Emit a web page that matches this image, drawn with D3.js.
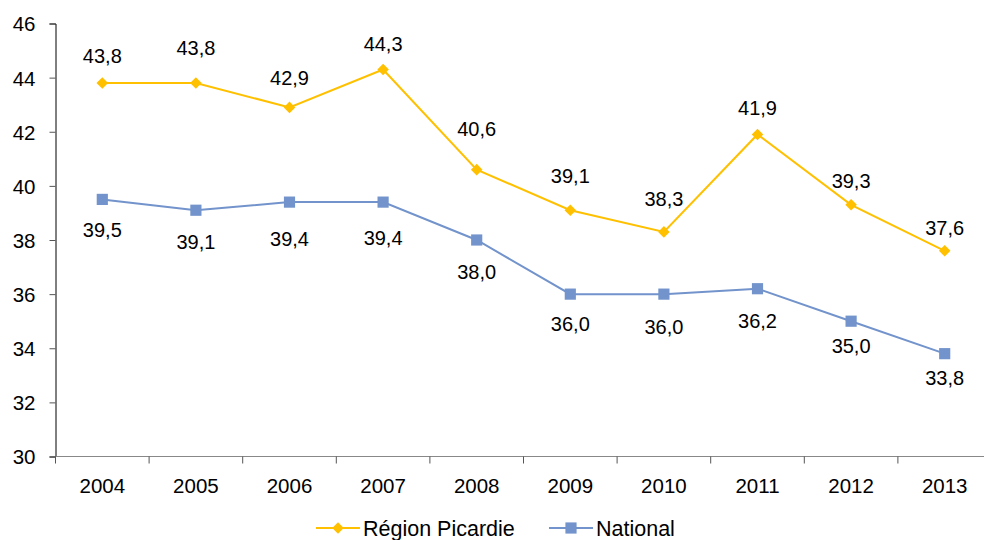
<!DOCTYPE html>
<html lang="fr">
<head>
<meta charset="utf-8">
<script src="https://d3js.org/d3.v7.min.js"></script>
<style>
  body { margin: 0; background: #fff; }
  svg text { font-family: "Liberation Sans", Arial, sans-serif; fill: #000; }
</style>
</head>
<body>
<script>
  var years = ["2004", "2005", "2006", "2007", "2008", "2009", "2010", "2011", "2012", "2013"];
  var picardie = [43.8, 43.8, 42.9, 44.3, 40.6, 39.1, 38.3, 41.9, 39.3, 37.6];
  var national = [39.5, 39.1, 39.4, 39.4, 38.0, 36.0, 36.0, 36.2, 35.0, 33.8];
  var yTicks = [30, 32, 34, 36, 38, 40, 42, 44, 46];
  // label placement (px from the point, label centre), as hand-placed in the original
  var picardieLabelShift = [-27, -35, -30, -26, -41, -34, -33, -27, -24, -23];
  var nationalLabelShift = [30, 32, 37, 36, 32, 30, 33, 32, 25, 24];

  var width = 984, height = 540;
  var svg = d3.select("body").append("svg")
    .attr("width", width)
    .attr("height", height);

  var x = d3.scaleBand().domain(years).range([55.5, 991.5]);
  var y = d3.scaleLinear().domain([30, 46]).range([456.5, 23.5]);

  var fmt = function (v) { return v.toFixed(1).replace(".", ","); };
  var cx = function (i) { return x(years[i]) + x.bandwidth() / 2; };

  // y axis
  var yAxis = svg.append("g")
    .attr("transform", "translate(55.5,0)")
    .call(d3.axisLeft(y).tickValues(yTicks).tickSize(6).tickPadding(14));
  yAxis.select(".domain").attr("stroke", "#000");
  yAxis.selectAll(".tick line").attr("stroke", "#555");
  yAxis.selectAll("text").style("font-size", "20.5px").attr("dy", "0.36em");

  // x axis, ticks at category boundaries
  var xAxis = svg.append("g").attr("transform", "translate(0,456.5)");
  xAxis.append("line")
    .attr("x1", 55.5).attr("x2", width)
    .attr("stroke", "#888");
  xAxis.selectAll("line.tk")
    .data(years)
    .join("line")
    .attr("class", "tk")
    .attr("x1", function (d) { return x(d); })
    .attr("x2", function (d) { return x(d); })
    .attr("y1", 0).attr("y2", 7)
    .attr("stroke", "#555");
  xAxis.selectAll("text")
    .data(years)
    .join("text")
    .attr("x", function (d) { return x(d) + x.bandwidth() / 2; })
    .attr("y", 36)
    .attr("text-anchor", "middle")
    .style("font-size", "20.5px")
    .text(function (d) { return d; });

  var series = [
    { name: "Région Picardie", values: picardie, shift: picardieLabelShift, color: "#FFC000", shape: d3.symbolDiamond2, size: 85 },
    { name: "National", values: national, shift: nationalLabelShift, color: "#7293CB", shape: d3.symbolSquare, size: 125 }
  ];

  var line = d3.line()
    .x(function (d, i) { return cx(i); })
    .y(function (d) { return y(d); });

  series.forEach(function (s) {
    svg.append("path")
      .datum(s.values)
      .attr("fill", "none")
      .attr("stroke", s.color)
      .attr("stroke-width", 2)
      .attr("d", line);

    svg.selectAll(null)
      .data(s.values)
      .join("path")
      .attr("transform", function (d, i) { return "translate(" + cx(i) + "," + y(d) + ")"; })
      .attr("d", d3.symbol().type(s.shape).size(s.size))
      .attr("fill", s.color);

    svg.selectAll(null)
      .data(s.values)
      .join("text")
      .attr("x", function (d, i) { return cx(i); })
      .attr("y", function (d, i) { return y(d) + s.shift[i]; })
      .attr("dy", "0.36em")
      .attr("text-anchor", "middle")
      .style("font-size", "20px")
      .text(fmt);
  });

  // legend
  var legendPos = [316, 549];
  series.forEach(function (s, i) {
    var g = svg.append("g").attr("transform", "translate(" + legendPos[i] + ",528)");
    g.append("line").attr("x1", 0).attr("x2", 44).attr("stroke", s.color).attr("stroke-width", 2);
    g.append("path")
      .attr("transform", "translate(22,0)")
      .attr("d", d3.symbol().type(s.shape).size(s.size))
      .attr("fill", s.color);
    g.append("text")
      .attr("x", 47)
      .attr("y", 7.5)
      .style("font-size", "21.5px")
      .text(s.name);
  });
</script>
</body>
</html>
